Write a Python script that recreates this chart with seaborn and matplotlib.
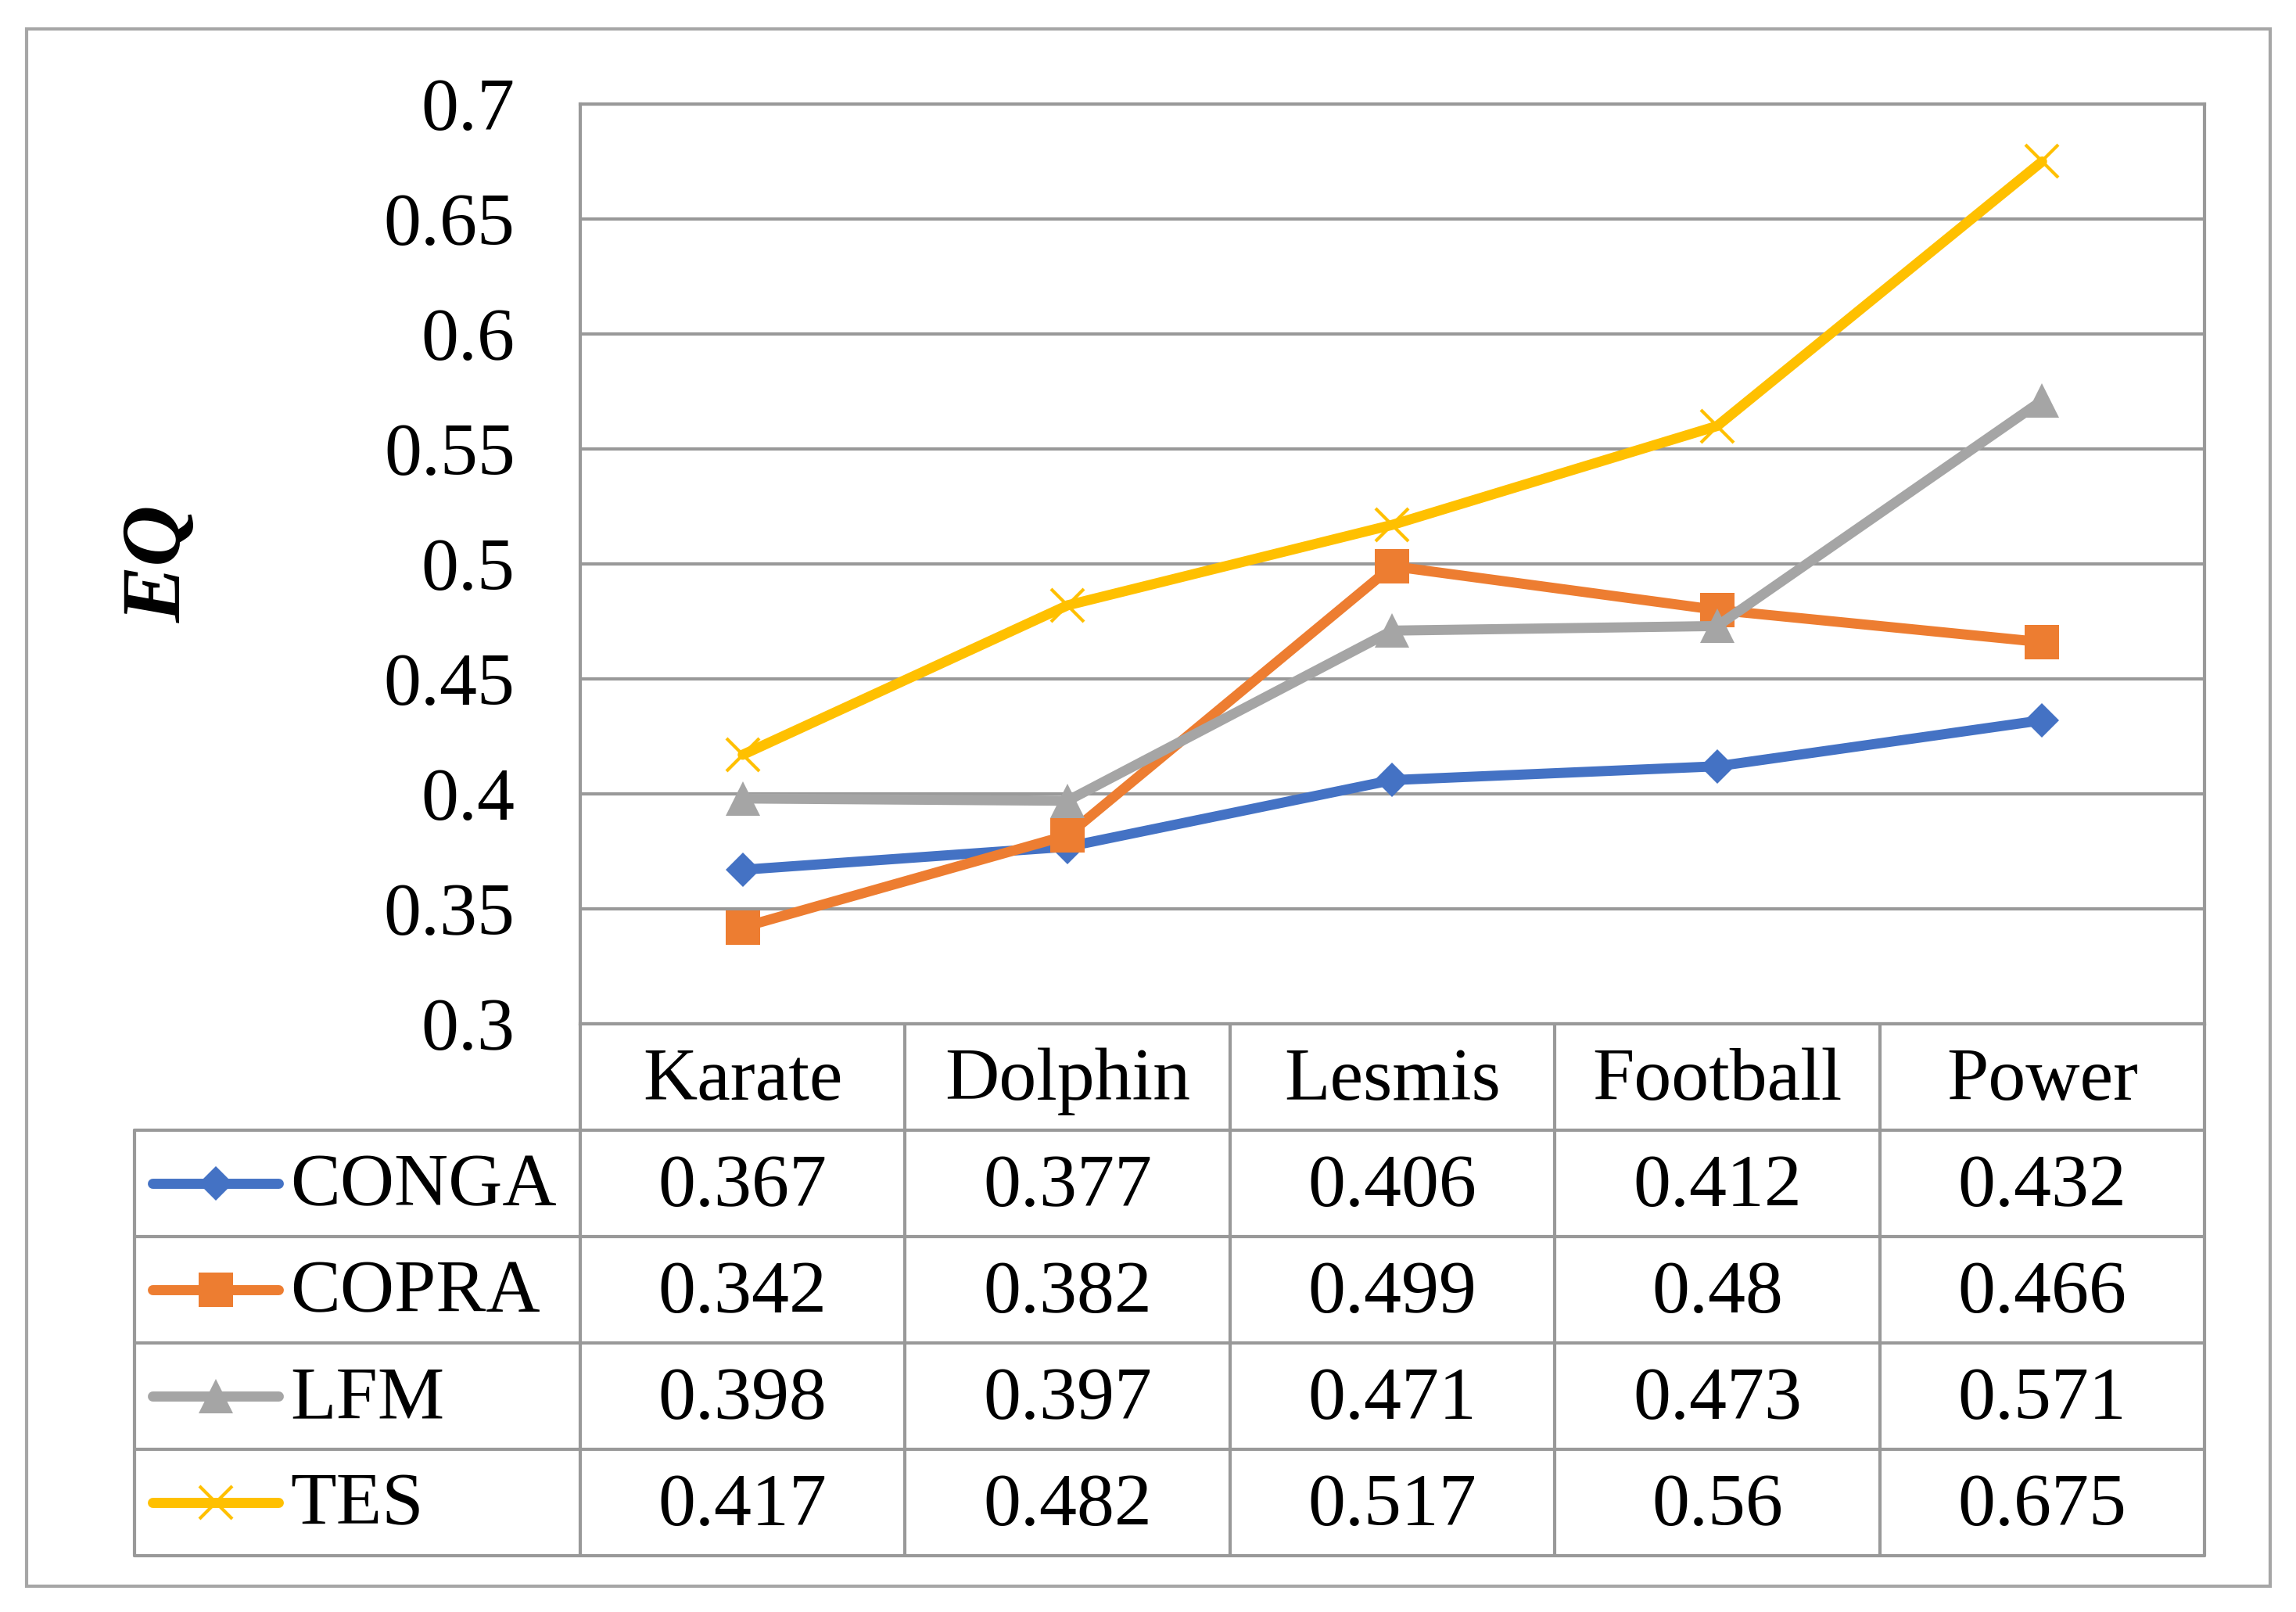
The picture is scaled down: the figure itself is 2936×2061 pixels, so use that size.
import numpy as np
import pandas as pd
import matplotlib.pyplot as plt
import seaborn as sns
from matplotlib.patches import Rectangle

# data
datasets = ['Karate', 'Dolphin', 'Lesmis', 'Football', 'Power']
methods = ['CONGA', 'COPRA', 'LFM', 'TES']
conga = [0.367, 0.377, 0.406, 0.412, 0.432]
copra = [0.342, 0.382, 0.499, 0.48, 0.466]
lfm = [0.398, 0.397, 0.471, 0.473, 0.571]
tes = [0.417, 0.482, 0.517, 0.56, 0.675]
yticks = [0.3, 0.35, 0.4, 0.45, 0.5, 0.55, 0.6, 0.65, 0.7]

series = {'CONGA': conga, 'COPRA': copra, 'LFM': lfm, 'TES': tes}
colors = {'CONGA': '#4472C4', 'COPRA': '#ED7D31', 'LFM': '#A5A5A5', 'TES': '#FFC000'}
markers = {'CONGA': 'D', 'COPRA': 's', 'LFM': '^', 'TES': 'x'}
msizes = {'CONGA': 7.5, 'COPRA': 10.5, 'LFM': 10.5, 'TES': 10}

sns.set_style('white')
plt.rcParams['font.family'] = ['Liberation Serif', 'DejaVu Serif']
plt.rcParams['text.color'] = 'black'
plt.rcParams['ytick.color'] = 'black'
plt.rcParams['axes.labelcolor'] = 'black'

W, H = 2937, 2061
fig = plt.figure(figsize=(W / 300, H / 300), dpi=300)

# layout in pixels
pl, pr, pt, pb = 742, 2819, 133, 1309
tl, tb = 172, 1989
grid_c = '#999999'
fs = 23
line_w = 3.1


def marker_kw(m):
    if markers[m] == 'x':
        return dict(markeredgewidth=1.0, markeredgecolor=colors[m])
    return dict(markeredgewidth=0)


ax = fig.add_axes([pl / W, 1 - pb / H, (pr - pl) / W, (pb - pt) / H])

for m in methods:
    sns.lineplot(x=datasets, y=series[m], ax=ax, color=colors[m], marker=markers[m],
                 markersize=msizes[m], linewidth=line_w, sort=False, zorder=3,
                 **marker_kw(m))

ax.set_xlim(-0.5, len(datasets) - 0.5)
ax.set_ylim(0.3, 0.7)
ax.set_yticks(yticks)
ax.set_yticklabels(['{:g}'.format(v) for v in yticks], fontsize=fs)
ax.set_xticks([])
ax.set_xlabel('')
ax.tick_params(axis='y', length=0, pad=20)
ax.yaxis.grid(True, color=grid_c, linewidth=1.0)
for s in ax.spines.values():
    s.set_color(grid_c)
    s.set_linewidth(1.0)
ax.set_ylabel('EQ', fontsize=26, fontweight='bold', fontstyle='italic')
ax.yaxis.set_label_coords(-0.235, 0.5)

# data table below the plot
col_w = (pr - pl) / len(datasets)
lab_w = (pl - tl) / col_w
tax = fig.add_axes([tl / W, 1 - tb / H, (pr - tl) / W, (tb - pb) / H])
x0 = -0.5 - lab_w
x1 = len(datasets) - 0.5
nrows = len(methods)
tax.set_xlim(x0, x1)
tax.set_ylim(0, nrows + 1)
tax.axis('off')

lw = 1.0
for k in range(nrows + 1):
    tax.plot([x0, x1], [k, k], color=grid_c, lw=lw, clip_on=False)
tax.plot([x0, x0], [0, nrows], color=grid_c, lw=lw, clip_on=False)
for k in range(len(datasets) + 1):
    tax.plot([k - 0.5, k - 0.5], [0, nrows + 1], color=grid_c, lw=lw, clip_on=False)

dy = -0.04
for i, d in enumerate(datasets):
    tax.text(i, nrows + 0.5 + dy, d, ha='center', va='center', fontsize=fs)

lx_a = x0 + (195 - tl) / col_w
lx_b = x0 + (356 - tl) / col_w
tx = x0 + (371 - tl) / col_w
for r, m in enumerate(methods):
    yc = nrows - r - 0.5
    tax.plot([lx_a, (lx_a + lx_b) / 2, lx_b], [yc, yc, yc], color=colors[m],
             lw=line_w, marker=markers[m], markersize=msizes[m], markevery=[1],
             solid_capstyle='round', **marker_kw(m))
    tax.text(tx, yc + dy, m, ha='left', va='center', fontsize=fs)
    for i, v in enumerate(series[m]):
        tax.text(i, yc + dy, '{:g}'.format(v), ha='center', va='center', fontsize=fs)

# outer frame
fig.patches.append(Rectangle((34 / W, 1 - 2028 / H), (2903 - 34) / W, (2028 - 37) / H,
                             transform=fig.transFigure, fill=False,
                             edgecolor='#a6a6a6', linewidth=1.0))

fig.savefig('out.png', dpi=300, facecolor='white')
